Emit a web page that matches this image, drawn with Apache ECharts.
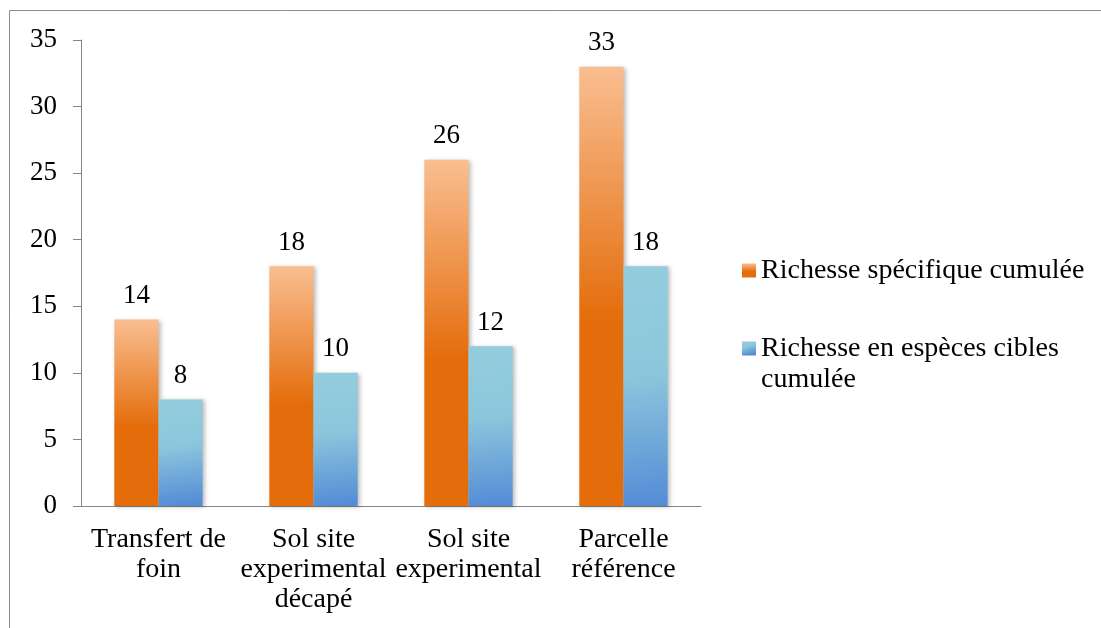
<!DOCTYPE html>
<html>
<head>
<meta charset="utf-8">
<script src="https://cdn.jsdelivr.net/npm/echarts@6/dist/echarts.min.js"></script>
<style>
html,body{margin:0;padding:0;background:#fff;}
#chart{width:1101px;height:628px;}
</style>
</head>
<body>
<div id="chart"></div>
<script>
const categories = ['Transfert de\nfoin', 'Sol site\nexperimental\ndécapé', 'Sol site\nexperimental', 'Parcelle\nréférence'];
const seriesNames = ['Richesse spécifique cumulée', 'Richesse en espèces cibles cumulée'];
const richesseSpecifique = [14, 18, 26, 33];
const richesseCibles = [8, 10, 12, 18];
const yTicks = [0, 5, 10, 15, 20, 25, 30, 35];

const FONT = 'Liberation Serif';
const FS = 27;
const FS_TEXT = 28;

const orangeGrad = new echarts.graphic.LinearGradient(0, 0, 0, 1, [
  {offset: 0, color: '#F9BE91'},
  {offset: 0.58, color: '#E46C0A'},
  {offset: 1, color: '#E46C0A'}
]);
const blueGrad = new echarts.graphic.LinearGradient(0, 0, 0.3, 1, [
  {offset: 0, color: '#93CDDD'},
  {offset: 0.45, color: '#8CC6DC'},
  {offset: 1, color: '#548DD6'}
]);

const chart = echarts.init(document.getElementById('chart'));
chart.setOption({
  animation: false,
  backgroundColor: '#fff',
  graphic: [{
    type: 'rect',
    shape: {x: 9.5, y: 10.5, width: 2000, height: 2000},
    style: {fill: 'none', stroke: '#8c8c8c', lineWidth: 1},
    silent: true
  }],
  grid: {left: 81, right: 400, top: 40, bottom: 122},
  legend: {
    orient: 'vertical',
    left: 737,
    top: 250,
    itemWidth: 14,
    itemHeight: 14,
    itemGap: 16,
    icon: 'rect',
    textStyle: {fontFamily: FONT, fontSize: FS_TEXT, color: '#000', lineHeight: 31},
    formatter: function (name) {
      return name === seriesNames[1] ? ' \nRichesse en espèces cibles\ncumulée' : name;
    },
    data: [seriesNames[0], seriesNames[1]]
  },
  xAxis: {
    type: 'category',
    data: categories,
    axisLine: {lineStyle: {color: '#868686', width: 1}},
    axisTick: {length: 8, lineStyle: {color: '#868686'}},
    axisLabel: {fontFamily: FONT, fontSize: FS_TEXT, color: '#000', margin: 19, lineHeight: 30, interval: 0}
  },
  yAxis: {
    type: 'value',
    min: yTicks[0],
    max: yTicks[yTicks.length - 1],
    interval: yTicks[1] - yTicks[0],
    axisLine: {show: true, lineStyle: {color: '#868686', width: 1}},
    axisTick: {show: true, length: 8, lineStyle: {color: '#868686'}},
    splitLine: {show: false},
    axisLabel: {fontFamily: FONT, fontSize: FS, color: '#000', margin: 24}
  },
  series: [
    {
      name: seriesNames[0],
      type: 'bar',
      data: richesseSpecifique,
      barGap: '0%',
      barCategoryGap: '43%',
      itemStyle: {color: orangeGrad, shadowBlur: 4, shadowColor: 'rgba(0,0,0,0.25)', shadowOffsetX: 2, shadowOffsetY: 1},
      label: {show: true, position: 'top', distance: 10, fontFamily: FONT, fontSize: FS, color: '#000'}
    },
    {
      name: seriesNames[1],
      type: 'bar',
      data: richesseCibles,
      itemStyle: {color: blueGrad, shadowBlur: 4, shadowColor: 'rgba(0,0,0,0.25)', shadowOffsetX: 2, shadowOffsetY: 1},
      label: {show: true, position: 'top', distance: 10, fontFamily: FONT, fontSize: FS, color: '#000'}
    }
  ]
});
</script>
</body>
</html>
